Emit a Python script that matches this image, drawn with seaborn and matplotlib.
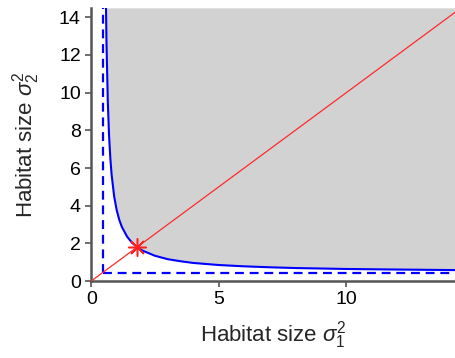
import matplotlib
matplotlib.use('Agg')
import matplotlib.pyplot as plt
import seaborn as sns
import numpy as np

# boundary curve
curve_x = [0.58, 0.60, 0.65, 0.70, 0.75, 0.80, 0.90, 1.0, 1.1, 1.2, 1.4, 1.6, 1.8,
           2.0, 2.5, 3.0, 3.5, 4.0, 5.0, 6.0, 7.0, 8.0, 10.0, 12.0, 14.3]
curve_y = [14.5, 12.6, 9.55, 7.73, 6.52, 5.65, 4.49, 3.76, 3.25, 2.88, 2.37, 2.03, 1.80,
           1.62, 1.34, 1.16, 1.05, 0.96, 0.85, 0.78, 0.73, 0.69, 0.64, 0.61, 0.58]

asymptote = 0.45
diag = [0.0, 14.3]
star = (1.8, 1.8)
xmax, ymax = 14.3, 14.5
xticks = [0, 5, 10]
yticks = [0, 2, 4, 6, 8, 10, 12, 14]

sns.set_style("ticks")
plt.rcParams['font.family'] = ['Liberation Sans', 'DejaVu Sans']
plt.rcParams['mathtext.fontset'] = 'custom'
plt.rcParams['mathtext.it'] = 'Liberation Sans:italic'
plt.rcParams['mathtext.rm'] = 'Liberation Sans'

fig = plt.figure(figsize=(4.56, 3.58), dpi=100)
ax = fig.add_axes([0.2, 0.215, 0.8, 0.763])

# shaded region above the curve
ax.fill_between(curve_x, curve_y, ymax, color='#d2d2d2', lw=0, zorder=1)

# dashed asymptotes
ax.plot([asymptote, asymptote], [asymptote, ymax], color='blue', lw=1.6, ls=(0, (4, 2.6)), zorder=2)
ax.plot([asymptote, xmax], [asymptote, asymptote], color='blue', lw=1.6, ls=(0, (4, 2.6)), zorder=2)

# diagonal
ax.plot(diag, diag, color='#ff2a2a', lw=0.9, zorder=3)

# curve
sns.lineplot(x=curve_x, y=curve_y, ax=ax, color='blue', lw=1.5, estimator=None,
             sort=False, zorder=4)

ax.plot([star[0]], [star[1]], marker=(8, 2, 0), color='#ff2020', ms=13, mew=1.1, zorder=5)

ax.set_xlim(0, xmax)
ax.set_ylim(0, ymax)
ax.set_xticks(xticks)
ax.set_yticks(yticks)
ax.tick_params(labelsize=14, length=4, width=1.2, colors='#555555', labelcolor='black')
for s in ['top', 'right']:
    ax.spines[s].set_visible(False)
for s in ['left', 'bottom']:
    ax.spines[s].set_color('#555555')
    ax.spines[s].set_linewidth(1.8)

ax.set_xlabel(r'Habitat size $\sigma_1^2$', fontsize=16, labelpad=8)
ax.set_ylabel(r'Habitat size $\sigma_2^2$', fontsize=16, labelpad=12)

fig.savefig('out.png', dpi=100)
